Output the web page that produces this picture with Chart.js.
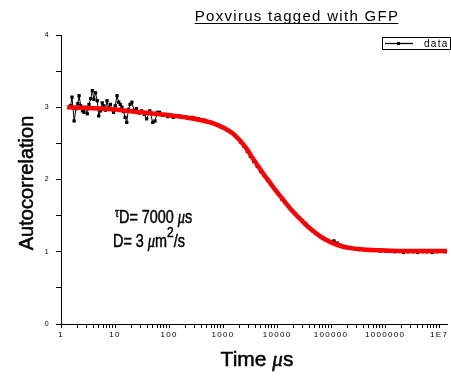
<!DOCTYPE html>
<html lang="en">
<head>
    <meta charset="UTF-8">
    <title>Poxvirus tagged with GFP</title>
    <script src="https://cdn.jsdelivr.net/npm/chart.js@4.4.1/dist/chart.umd.min.js"></script>
    <style>
        html, body { margin: 0; padding: 0; background: #fff; }
        canvas { display: block; }
    </style>
</head>
<body>
<canvas id="fcsChart" width="451" height="377"></canvas>

<script>
    // measured correlation curve (time in µs)
    const dataTime = [
        1.5, 1.6, 1.75, 1.9, 2.05, 2.16, 2.32, 2.5, 2.67, 2.85, 3.07, 3.3, 3.55, 3.8, 4.06, 4.36,
        4.69, 5.0, 5.4, 5.8, 6.2, 6.6, 7.1, 7.6, 8.2, 8.8, 9.4, 10.1, 10.9, 11.7, 12.5, 13.4,
        14.4, 15.4, 16.5, 17.7, 19, 20.5, 22.5, 25, 28, 31, 35, 38.5, 44, 50, 55, 61,
        67, 75, 85, 95, 107, 120, 135, 156, 175, 200, 230, 260, 300, 350, 400, 460,
        530, 610, 700, 800, 920, 1050, 1200, 1400, 1600, 1850, 2100, 2450, 2800, 3200, 3700, 4300,
        5000, 5800, 6700, 7800, 9000, 10500, 12200, 14000, 16300, 19000, 22000, 25500, 29500, 34000, 40000, 46000,
        53000, 62000, 72000, 84000, 97000, 113000, 130000, 150000, 175000, 200000, 240000, 280000, 330000, 400000, 480000, 570000,
        680000, 820000, 1000000, 1200000, 1500000, 1800000, 2200000, 2700000, 3300000, 4000000, 5000000, 6000000, 7500000, 9000000, 11000000, 13000000
    ];
    const dataValue = [
        3.02, 3.14, 2.81, 2.98, 3.05, 3.16, 3.02, 2.95, 2.93, 3.00, 2.91, 3.04, 3.12, 3.23, 3.11, 3.20,
        3.09, 2.88, 2.95, 3.06, 3.02, 2.96, 3.09, 2.99, 3.04, 2.97, 2.93, 3.02, 3.16, 3.07, 3.04, 3.00,
        2.94, 2.86, 2.79, 2.97, 3.04, 3.07, 2.96, 2.98, 2.92, 2.95, 2.90, 2.84, 2.95, 2.79, 2.81, 2.93,
        2.93, 2.89, 2.90, 2.87, 2.89, 2.86, 2.88, 2.88, 2.86, 2.87, 2.85, 2.86, 2.85, 2.84, 2.83, 2.82,
        2.80, 2.79, 2.77, 2.75, 2.73, 2.71, 2.68, 2.65, 2.62, 2.57, 2.52, 2.46, 2.39, 2.32, 2.25, 2.18,
        2.11, 2.05, 1.99, 1.93, 1.86, 1.80, 1.73, 1.68, 1.63, 1.57, 1.52, 1.47, 1.43, 1.38, 1.33, 1.29,
        1.25, 1.22, 1.19, 1.16, 1.14, 1.15, 1.12, 1.09, 1.07, 1.06, 1.05, 1.04, 1.03, 1.03, 1.02, 1.02,
        1.02, 1.01, 1.01, 1.01, 1.00, 1.01, 0.99, 1.00, 1.00, 0.99, 1.00, 1.00, 0.99, 1.00, 1.01, 1.00
    ];

    // fitted diffusion curve
    const fitTime = [
        1.3, 3, 10, 30, 100, 200, 400, 700, 1000, 1500, 2000, 2700, 3500, 4500, 5700, 7000,
        9000, 11500, 15000, 20000, 27000, 37000, 50000, 70000, 100000, 150000, 230000, 400000, 800000, 2000000, 14000000
    ];
    const fitValue = [
        3.00, 2.99, 2.97, 2.93, 2.89, 2.86, 2.82, 2.77, 2.72, 2.64, 2.55, 2.43, 2.30, 2.18, 2.07, 1.98,
        1.87, 1.77, 1.66, 1.55, 1.45, 1.35, 1.27, 1.19, 1.13, 1.08, 1.05, 1.03, 1.02, 1.01, 1.01
    ];

    const xMajorTicks = [1, 10, 100, 1000, 10000, 100000, 1000000, 10000000];
    const xMajorLabels = ['1', '10', '100', '1000', '10000', '100000', '1000000', '1E7'];
    const yTicks = [0, 0.5, 1, 1.5, 2, 2.5, 3, 3.5, 4];
    const yTickLabels = ['0', '', '1', '', '2', '', '3', '', '4'];

    const chartTitle = 'Poxvirus tagged with GFP';
    const legendLabel = 'data';

    // tick positions incl. minor 2..9 per decade
    const xTicks = [];
    xMajorTicks.forEach((m, i) => {
        xTicks.push(m);
        if (i < xMajorTicks.length - 1) {
            for (let k = 2; k <= 9; k++) xTicks.push(m * k);
        }
    });

    const SANS = '"Liberation Sans", Arial, sans-serif';
    const SERIF = '"Liberation Serif", "Times New Roman", serif';

    // draws one line made of [text, font, dx, dy] pieces, a bit heavier than plain fill
    function drawPieces(ctx, pieces, x, y) {
        let cx = x;
        ctx.lineWidth = 0.5;
        pieces.forEach(p => {
            ctx.font = p[1];
            const px = cx + (p[2] || 0), py = y + (p[3] || 0);
            ctx.fillText(p[0], px, py);
            ctx.strokeText(p[0], px, py);
            cx += ctx.measureText(p[0]).width + (p[2] || 0);
        });
        return cx;
    }

    // same, but squeezed horizontally like the original lettering
    function drawNarrow(ctx, pieces, x, y, sx) {
        ctx.save();
        ctx.translate(x, y);
        ctx.scale(sx, 1);
        drawPieces(ctx, pieces, 0, 0);
        ctx.restore();
    }

    const decorations = {
        id: 'decorations',
        beforeDraw(chart) {
            chart.ctx.letterSpacing = '1.3px';
        },
        afterDraw(chart) {
            const ctx = chart.ctx;
            ctx.save();
            ctx.fillStyle = '#000';
            ctx.strokeStyle = '#000';
            ctx.textAlign = 'left';
            ctx.textBaseline = 'alphabetic';

            // title, underlined
            ctx.letterSpacing = '1.3px';
            ctx.font = '15px ' + SANS;
            const tw = ctx.measureText(chartTitle).width;
            const tx = 297 - tw / 2;
            ctx.fillText(chartTitle, tx, 21);
            ctx.fillRect(tx, 23, tw - 1, 1);

            // legend box
            ctx.lineWidth = 1;
            ctx.strokeRect(382.5, 37.5, 68, 12);
            ctx.lineWidth = 1.3;
            ctx.beginPath();
            ctx.moveTo(385, 43.5);
            ctx.lineTo(413, 43.5);
            ctx.stroke();
            ctx.fillRect(397, 42, 3, 3);
            ctx.font = '10px ' + SANS;
            ctx.fillText(legendLabel, 424, 47);

            ctx.letterSpacing = '0px';

            // y axis title
            ctx.save();
            ctx.translate(33, 183);
            ctx.rotate(-Math.PI / 2);
            ctx.textAlign = 'center';
            ctx.font = '20px ' + SANS;
            ctx.lineWidth = 0.5;
            ctx.fillText('Autocorrelation', 0, 0);
            ctx.strokeText('Autocorrelation', 0, 0);
            ctx.restore();

            // x axis title
            const xt = [['Time ', '21px ' + SANS], ['\u03bc', 'italic 21px ' + SERIF], ['s', '21px ' + SANS]];
            let xw = 0;
            xt.forEach(p => { ctx.font = p[1]; xw += ctx.measureText(p[0]).width; });
            drawPieces(ctx, xt, 257 - xw / 2, 366);

            // fit result
            drawNarrow(ctx, [
                ['\u03c4', 'italic 14px ' + SERIF, 0, -6],
                ['D', '18px ' + SANS],
                ['= 7000 ', '18px ' + SANS],
                ['\u03bc', 'italic 18px ' + SERIF],
                ['s', '18px ' + SANS]
            ], 115, 223, 0.8);
            drawNarrow(ctx, [
                ['D= 3 ', '18px ' + SANS],
                ['\u03bc', 'italic 18px ' + SERIF],
                ['m', '18px ' + SANS],
                ['2', '15px ' + SANS, 0, -10],
                ['/s', '18px ' + SANS]
            ], 113, 247, 0.8);

            ctx.restore();
        }
    };

    const ctx = document.getElementById('fcsChart').getContext('2d');
    new Chart(ctx, {
        type: 'line',
        data: {
            datasets: [
                {
                    label: 'fit',
                    data: fitTime.map((t, i) => ({ x: t, y: fitValue[i] })),
                    borderColor: '#ff0000',
                    borderWidth: 4.5,
                    pointRadius: 0,
                    cubicInterpolationMode: 'monotone',
                    order: 0
                },
                {
                    label: legendLabel,
                    data: dataTime.map((t, i) => ({ x: t, y: dataValue[i] })),
                    borderColor: '#000',
                    borderWidth: 1,
                    pointStyle: 'rect',
                    pointRadius: 2.3,
                    pointBorderWidth: 0,
                    pointBackgroundColor: '#000',
                    order: 1
                }
            ]
        },
        options: {
            responsive: false,
            animation: false,
            layout: { padding: { left: 0, right: 0, top: 35, bottom: 0 } },
            plugins: {
                legend: { display: false },
                title: { display: false },
                tooltip: { enabled: false }
            },
            scales: {
                x: {
                    type: 'logarithmic',
                    min: 1,
                    max: 1.4e7,
                    afterBuildTicks: s => { s.ticks = xTicks.map(v => ({ value: v })); },
                    afterFit: s => { s.height = 53; s.paddingLeft = 0; s.paddingRight = 0; },
                    ticks: {
                        autoSkip: false,
                        maxRotation: 0,
                        padding: 2,
                        color: '#000',
                        font: { family: SANS, size: 8 },
                        callback: v => {
                            const i = xMajorTicks.indexOf(v);
                            return i >= 0 ? xMajorLabels[i] : '';
                        }
                    },
                    grid: { drawOnChartArea: false, tickLength: 4, color: '#000', lineWidth: 1 },
                    border: { display: true, color: '#000', width: 1 }
                },
                y: {
                    min: 0,
                    max: 4,
                    afterBuildTicks: s => { s.ticks = yTicks.map(v => ({ value: v })); },
                    afterFit: s => { s.width = 61; s.paddingTop = 0; s.paddingBottom = 0; },
                    ticks: {
                        padding: 6,
                        color: '#000',
                        font: { family: SANS, size: 7 },
                        callback: v => yTickLabels[yTicks.indexOf(v)]
                    },
                    grid: { drawOnChartArea: false, tickLength: 5, color: '#000', lineWidth: 1 },
                    border: { display: true, color: '#000', width: 1 }
                }
            }
        },
        plugins: [decorations]
    });
</script>
</body>
</html>
